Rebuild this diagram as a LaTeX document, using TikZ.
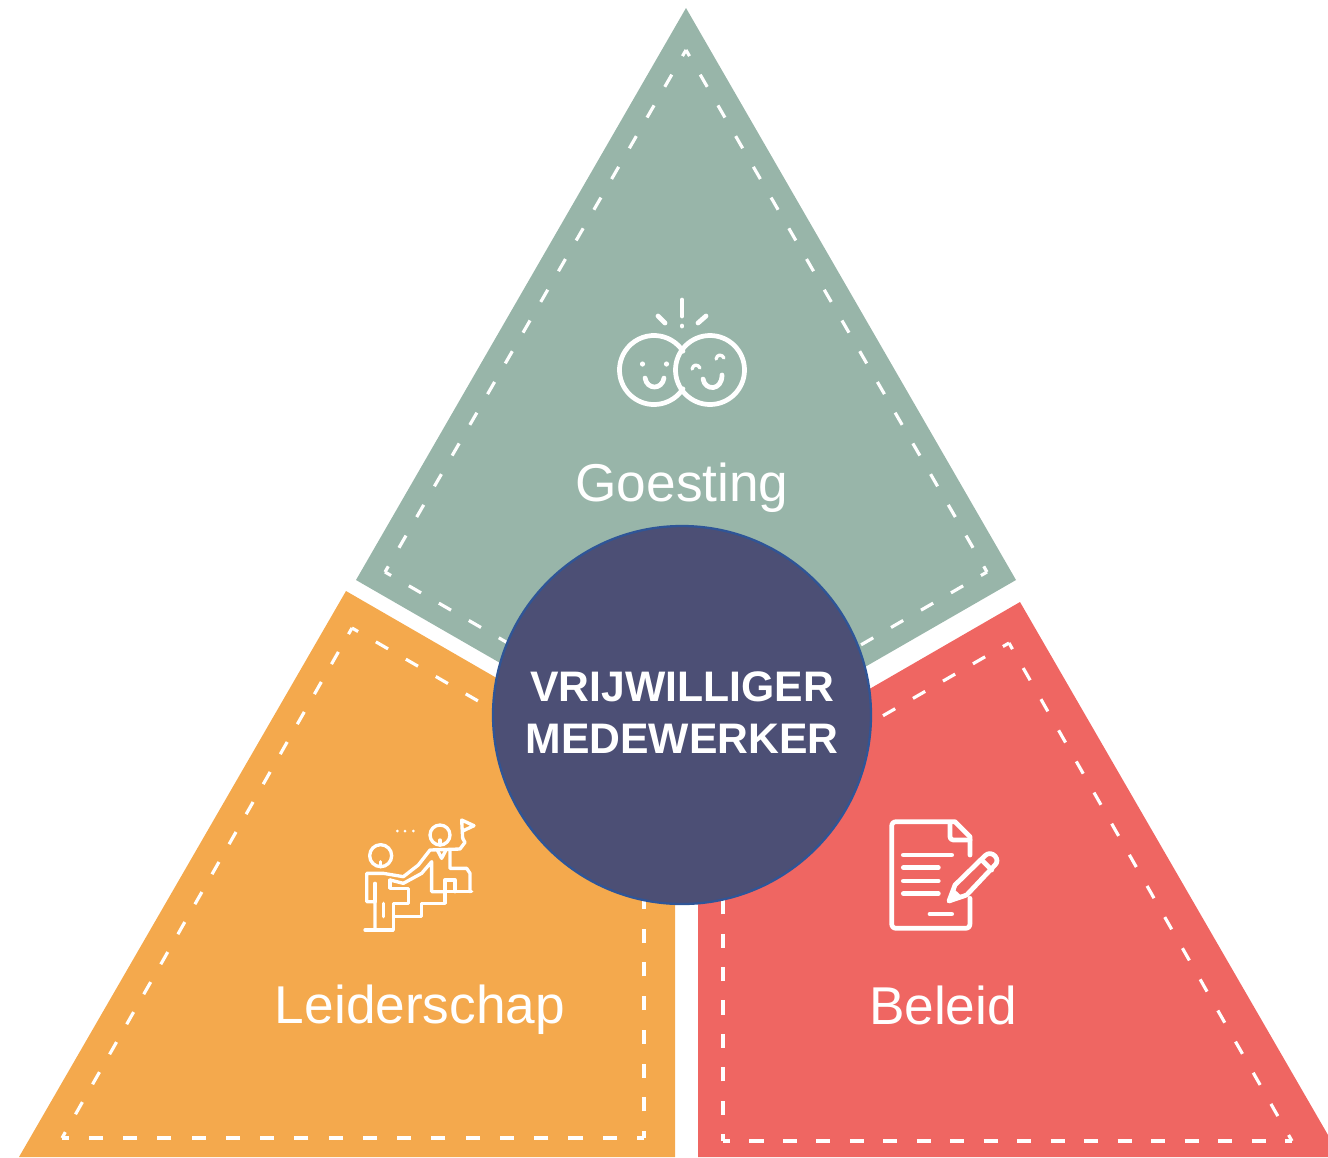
\documentclass[tikz,border=0pt]{standalone}
\usepackage{fontspec}
\setmainfont{Liberation Sans}
\definecolor{goestinggreen}{HTML}{98B5A9}
\definecolor{leiderorange}{HTML}{F4A94D}
\definecolor{beleidred}{HTML}{EF6662}
\definecolor{kernblue}{HTML}{4C4F75}
\definecolor{kernrim}{HTML}{2F5597}
\tikzset{
  stitch/.style={white, line width=1.8pt},
  icon/.style={white, line width=2.7pt, line cap=round, line join=round},
  thinicon/.style={white, line width=1.9pt, line join=round, line cap=round},
  label/.style={white, font=\fontsize{30.3}{34}\selectfont},
}

\begin{document}
\begin{tikzpicture}[x=0.02cm, y=-0.02cm]
    \useasboundingbox (0,0) rectangle (1328,1157);

    % the three triangles
    \fill[goestinggreen] (686,8) -- (1016,580) -- (686,770) -- (356,580) -- cycle;
    \fill[leiderorange] (346,591) -- (675,781) -- (675,1157) -- (19,1157) -- cycle;
    \fill[beleidred] (1020,602) -- (698,788) -- (698,1157) -- (1328,1157) -- (1328,1135) -- cycle;

    % corners of the stitched lines
    \coordinate (ga) at (686,50);
    \coordinate (gb) at (987,572);
    \coordinate (gc) at (385,572);
    \coordinate (gd) at (686,746);
    \coordinate (oa) at (352,628);
    \coordinate (ob) at (644,797);
    \coordinate (oc) at (644,1138);
    \coordinate (od) at (62,1138);
    \coordinate (ra) at (1009,643);
    \coordinate (rb) at (723,808);
    \coordinate (rc) at (723,1141);
    \coordinate (rd) at (1292,1141);

    \foreach \a/\b/\gap in {ga/gb/12.19, ga/gc/12.19, gb/gd/11.7, gc/gd/11.7,
                            oa/ob/11.7, oc/ob/11.2, oc/od/11.5, oa/od/11.65,
                            ra/rb/11.7, rc/rb/11.0, rc/rd/11.05, ra/rd/12.38} {
      \draw[stitch, dash pattern=on 8pt off \gap pt, dash phase=4pt] (\a) -- (\b);
    }

    % centre
    \node[circle, draw=kernrim, fill=kernblue, line width=1.3pt, minimum size=378*0.02cm, inner sep=0pt] (kern) at (682,715) {};
    \node[white, align=center, font=\fontsize{24.3}{29.6}\selectfont\bfseries] (kerntext) at (682,713) {VRIJWILLIGER\\MEDEWERKER};

    \node[label] (goesting) at (682,488) {Goesting};
    \node[label] (leiderschap) at (420,1010) {Leiderschap};
    \node[label] (beleid) at (943,1005) {Beleid};

    % smileys
    \draw[icon] (654,370) ++(33:34.5) arc (33:327:34.5);
    \draw[icon] (710,370) circle (34.5);
    \draw[icon] (682,300) -- (682,316);
    \draw[icon] (682,326) -- (682,326.1);
    \draw[icon] (658,316) -- (665,323);
    \draw[icon] (706,316) -- (698,323);
    \foreach \i in {642.5,666.5} {
      \fill[white] (\i,364) circle (2.6);
    }
    \draw[icon] (645,378) .. controls (647,390) and (662,390) .. (664,378);
    \draw[icon] (703,379) .. controls (705,391) and (722,391) .. (722,375);
    \draw[thinicon] (692,369) .. controls (693,364) and (698,364) .. (700,368);
    \draw[thinicon] (716,359) .. controls (717,354) and (722,354) .. (724,358);

    % leader on the stairs
    \begin{scope}[shift={(350,805)}, x=0.02cm/3, y=-0.02cm/3]
      \draw[thinicon] (92,152) circle (33);
      \draw[thinicon] (270,90) circle (30);
      \draw[thinicon] (92,185) -- (92,170);
      \draw[thinicon] (270,120) -- (270,105);
      \foreach \i in {142,165,190} {
        \fill[white] (\i,78) circle (4.5);
      }
      \draw[thinicon] (338,100) -- (335,45) -- (372,62) -- (338,78);
      \draw[thinicon] (45,375) -- (130,375) -- (130,335) -- (215,335) -- (215,295) -- (285,295) -- (285,260) -- (365,260);
      \draw[thinicon] (75,375) -- (75,290) -- (50,290) -- (50,205) -- (100,205) -- (160,215) -- (205,180) -- (240,135) -- (330,132) -- (345,112) -- (338,100);
      \draw[thinicon] (100,295) -- (100,335);
      \draw[thinicon] (75,235) -- (75,290);
      \draw[thinicon] (120,225) -- (120,250) -- (175,250) -- (175,295) -- (130,295) -- (130,335);
      \draw[thinicon] (120,225) -- (160,235) -- (215,205) -- (245,170) -- (245,260) -- (285,260);
      \draw[thinicon] (300,135) -- (300,190) -- (350,190) -- (360,205) -- (360,260);
      \draw[thinicon] (285,260) -- (285,225) -- (315,225) -- (315,260);
      \draw[thinicon] (262,135) -- (275,160) -- (288,135);
    \end{scope}

    % document with pencil
    \begin{scope}[shift={(875,805)}, x=0.02cm/3, y=-0.02cm/3]
      \draw[icon] (285,150) -- (285,95) -- (240,50) -- (65,50) .. controls (55,50) and (50,55) .. (50,65) -- (50,355) .. controls (50,365) and (55,370) .. (65,370) -- (270,370) .. controls (280,370) and (285,365) .. (285,355) -- (285,280);
      \draw[icon] (225,55) -- (225,95) .. controls (225,100) and (228,105) .. (235,105) -- (285,105);
      \draw[icon] (85,150) -- (230,150);
      \foreach \j in {188,228,266} {
        \draw[icon] (85,\j) -- (190,\j);
      }
      \draw[icon] (165,327) -- (230,327);
      \draw[icon] (222,288) -- (240,240) -- (330,152) .. controls (340,142) and (352,145) .. (360,153) .. controls (368,162) and (368,172) .. (360,180) -- (275,270) -- cycle;
      \draw[icon] (320,165) -- (350,195);
      \fill[white] (222,288) -- (235,250) -- (262,275) -- cycle;
    \end{scope}
\end{tikzpicture}
\end{document}
